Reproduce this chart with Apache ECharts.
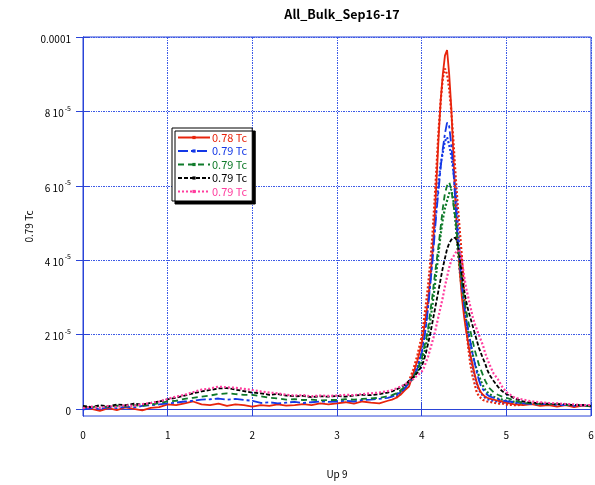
<!DOCTYPE html>
<html>
<head>
<meta charset="utf-8">
<script src="https://cdn.jsdelivr.net/npm/echarts@6/dist/echarts.min.js"></script>
<style>
  html, body { margin: 0; padding: 0; background: #ffffff; }
  #chart { width: 595px; height: 485px; }
</style>
</head>
<body>
<div id="chart"></div>
<script>
// Sample positions on the "Up 9" axis (denser across the peak)
const xValues = [
  0, 0.1, 0.2, 0.3, 0.4, 0.5, 0.6, 0.7, 0.8, 0.9,
  1, 1.1, 1.2, 1.3, 1.4, 1.5, 1.6, 1.7, 1.8, 1.9,
  2, 2.1, 2.2, 2.3, 2.4, 2.5, 2.6, 2.7, 2.8, 2.9,
  3, 3.1, 3.2, 3.3, 3.4, 3.5, 3.6,
  3.65, 3.7, 3.75, 3.8, 3.85, 3.9, 3.95,
  4, 4.025, 4.05, 4.075, 4.1, 4.125, 4.15, 4.175, 4.2, 4.225, 4.25, 4.275, 4.3,
  4.325, 4.35, 4.375, 4.4, 4.425, 4.45, 4.475, 4.5, 4.525, 4.55, 4.575, 4.6,
  4.625, 4.65, 4.675, 4.7, 4.725, 4.75, 4.775, 4.8,
  4.85, 4.9, 4.95, 5,
  5.1, 5.2, 5.3, 5.4, 5.5, 5.6, 5.7, 5.8, 5.9, 6
];

// Signal values, in units of 1e-5
const tc078 = [
  0.05, 0.0, -0.05, 0.02, -0.03, 0.04, 0.0, -0.04, 0.03, 0.05,
  0.12, 0.1, 0.15, 0.2, 0.12, 0.1, 0.14, 0.08, 0.12, 0.1,
  0.06, 0.1, 0.08, 0.12, 0.09, 0.1, 0.13, 0.1, 0.15, 0.12,
  0.15, 0.18, 0.14, 0.2, 0.17, 0.15, 0.22,
  0.25, 0.3, 0.38, 0.5, 0.6, 0.95, 1.3,
  1.75, 2.1, 2.5, 2.9, 3.5, 4.1, 5.0, 6.1, 7.3, 8.3, 9.0, 9.5, 9.65,
  9.0, 8.1, 6.8, 5.5, 4.5, 3.7, 3.0, 2.5, 2.1, 1.75, 1.45, 1.2,
  0.95, 0.72, 0.55, 0.45, 0.38, 0.33, 0.3, 0.28,
  0.25, 0.22, 0.2, 0.16,
  0.12, 0.1, 0.13, 0.08, 0.1, 0.06, 0.1, 0.05, 0.09, 0.07
];
const tc079a = [
  -0.02, 0.03, 0.0, 0.05, 0.02, 0.06, 0.04, 0.08, 0.1, 0.12,
  0.15, 0.17, 0.2, 0.22, 0.25, 0.26, 0.28, 0.25, 0.27, 0.24,
  0.22, 0.16, 0.18, 0.15, 0.17, 0.19, 0.16, 0.18, 0.2, 0.19,
  0.2, 0.22, 0.2, 0.24, 0.25, 0.27, 0.3,
  0.33, 0.38, 0.45, 0.55, 0.7, 0.85, 1.1,
  1.5, 1.8, 2.2, 2.7, 3.3, 3.9, 4.6, 5.3, 5.9, 6.5, 7.0, 7.4, 7.7,
  7.6, 7.1, 6.4, 5.5, 4.6, 3.9, 3.3, 2.8, 2.4, 2.1, 1.8, 1.5,
  1.25, 1.0, 0.78, 0.62, 0.52, 0.44, 0.38, 0.34,
  0.3, 0.27, 0.23, 0.21,
  0.18, 0.15, 0.13, 0.12, 0.14, 0.1, 0.11, 0.08, 0.1, 0.07
];
const tc079b = [
  0.06, 0.04, 0.08, 0.05, 0.09, 0.07, 0.1, 0.08, 0.12, 0.15,
  0.2, 0.22, 0.27, 0.3, 0.33, 0.36, 0.4, 0.42, 0.4, 0.38,
  0.38, 0.34, 0.3, 0.28, 0.25, 0.26, 0.24, 0.25, 0.23, 0.24,
  0.24, 0.26, 0.25, 0.27, 0.28, 0.3, 0.34,
  0.37, 0.42, 0.5, 0.6, 0.72, 0.85, 1.05,
  1.35, 1.6, 1.85, 2.15, 2.6, 3.0, 3.5, 3.95, 4.4, 4.9, 5.4, 5.8, 6.0,
  6.1, 5.9, 5.5, 5.1, 4.5, 3.9, 3.4, 3.0, 2.65, 2.35, 2.1, 1.85,
  1.6, 1.4, 1.2, 1.05, 0.9, 0.76, 0.65, 0.56,
  0.45, 0.38, 0.33, 0.3,
  0.22, 0.16, 0.15, 0.13, 0.12, 0.14, 0.1, 0.11, 0.09, 0.07
];
const tc079c = [
  0.08, 0.05, 0.1, 0.07, 0.12, 0.1, 0.14, 0.12, 0.16, 0.2,
  0.26, 0.3, 0.36, 0.42, 0.47, 0.51, 0.55, 0.56, 0.52, 0.48,
  0.44, 0.42, 0.38, 0.4, 0.36, 0.34, 0.35, 0.32, 0.34, 0.33,
  0.35, 0.33, 0.36, 0.38, 0.37, 0.4, 0.44,
  0.47, 0.52, 0.58, 0.65, 0.75, 0.85, 0.98,
  1.15, 1.3, 1.5, 1.75, 2.0, 2.3, 2.6, 2.9, 3.2, 3.5, 3.8, 4.05, 4.3,
  4.45, 4.55, 4.6, 4.6, 4.45, 4.1, 3.6, 3.2, 2.9, 2.65, 2.45, 2.25,
  2.05, 1.85, 1.65, 1.5, 1.35, 1.22, 1.05, 0.92,
  0.75, 0.6, 0.48, 0.4,
  0.28, 0.2, 0.17, 0.15, 0.14, 0.12, 0.13, 0.1, 0.11, 0.08
];
const tc079d = [
  0.02, 0.06, 0.03, 0.08, 0.05, 0.1, 0.08, 0.13, 0.16, 0.2,
  0.27, 0.33, 0.38, 0.45, 0.52, 0.55, 0.6, 0.58, 0.57, 0.54,
  0.51, 0.47, 0.44, 0.42, 0.38, 0.36, 0.37, 0.34, 0.36, 0.35,
  0.36, 0.38, 0.37, 0.4, 0.42, 0.44, 0.48,
  0.51, 0.55, 0.6, 0.66, 0.72, 0.8, 0.9,
  1.0, 1.1, 1.25, 1.4, 1.6, 1.8, 2.0, 2.25, 2.5, 2.75, 3.0, 3.3, 3.55,
  3.8, 4.0, 4.1, 4.2, 4.25, 4.25, 4.0, 3.6, 3.25, 3.0, 2.75, 2.5,
  2.3, 2.15, 2.0, 1.85, 1.7, 1.5, 1.35, 1.2,
  0.95, 0.8, 0.6, 0.45,
  0.3, 0.25, 0.2, 0.18, 0.16, 0.15, 0.13, 0.12, 0.1, 0.1
];

// Point-marker traces around the peak
const peakX = [
  3.7, 3.75, 3.8, 3.85, 3.9, 3.95,
  4, 4.025, 4.05, 4.075, 4.1, 4.125, 4.15, 4.175, 4.2, 4.225, 4.25, 4.275, 4.3,
  4.325, 4.35, 4.375, 4.4, 4.425, 4.45, 4.475, 4.5, 4.525, 4.55, 4.575, 4.6,
  4.625, 4.65, 4.675, 4.7, 4.725, 4.75, 4.775, 4.8,
  4.85, 4.9, 4.95, 5, 5.1, 5.2
];
const tc078Pts = [
  0.3, 0.42, 0.55, 0.75, 1.05, 1.45,
  1.95, 2.35, 2.8, 3.3, 3.9, 4.6, 5.5, 6.5, 7.5, 8.3, 8.9, 9.15, 9.0,
  8.6, 8.0, 7.2, 6.3, 5.5, 4.8, 4.1, 3.2, 2.3, 1.65, 1.2, 0.9,
  0.68, 0.45, 0.35, 0.29, 0.24, 0.22, 0.2, 0.19,
  0.17, 0.14, 0.15, 0.12, 0.1, 0.11
];
const tc079aPts = [
  0.36, 0.44, 0.55, 0.72, 0.9, 1.15,
  1.55, 1.9, 2.3, 2.8, 3.4, 4.1, 4.8, 5.5, 6.1, 6.6, 6.9, 7.2, 7.3,
  7.1, 6.8, 6.4, 5.9, 5.0, 4.1, 3.3, 2.7, 2.2, 1.8, 1.45, 1.15,
  0.9, 0.68, 0.52, 0.42, 0.35, 0.3, 0.27, 0.25,
  0.22, 0.2, 0.18, 0.17, 0.15, 0.14
];
const tc079bPts = [
  0.4, 0.48, 0.58, 0.7, 0.82, 1.0,
  1.25, 1.45, 1.7, 2.0, 2.35, 2.75, 3.2, 3.7, 4.2, 4.7, 5.1, 5.4, 5.6,
  5.8, 5.9, 5.6, 5.0, 4.3, 3.7, 3.2, 2.8, 2.4, 2.1, 1.8, 1.5,
  1.25, 1.05, 0.9, 0.75, 0.62, 0.52, 0.45, 0.4,
  0.33, 0.28, 0.25, 0.22, 0.19, 0.16
];

const legendLabels = ['0.78 Tc', '0.79 Tc', '0.79 Tc', '0.79 Tc', '0.79 Tc'];
const yTicks = [0, 2, 4, 6, 8, 10];
const xTicks = [0, 1, 2, 3, 4, 5, 6];

const RED = '#e8240c', BLUE = '#1438e6', GREEN = '#0f7a2a', BLACK = '#000000', PINK = '#ff3d9e';
const FRAME = '#2a44d8';
const GRIDLINE = '#3d5ae6';
const FONT = '"Noto Sans CJK JP", "DejaVu Sans", sans-serif';

function pairs(xs, ys) { return xs.map((x, i) => [x, ys[i]]); }

function yLabel(v) {
  if (v === 0) return '{m|0}';
  if (v === 10) return '{m|0.0001}';
  return '{m|' + v + ' 10}{e|-5}';
}

const seriesDefs = [
  { id: 's0', data: pairs(xValues, tc078), color: RED, type: 'solid', width: 1.8 },
  { id: 's1', data: pairs(xValues, tc079a), color: BLUE, type: [10, 3, 3, 3], width: 1.8 },
  { id: 's2', data: pairs(xValues, tc079b), color: GREEN, type: [6, 4], width: 1.8 },
  { id: 's3', data: pairs(xValues, tc079c), color: BLACK, type: [4, 2], width: 1.8 },
  { id: 's4', data: pairs(xValues, tc079d), color: PINK, type: [2, 2], width: 2.2 }
];
const pointDefs = [
  { id: 'p0', data: pairs(peakX, tc078Pts), color: RED },
  { id: 'p1', data: pairs(peakX, tc079aPts), color: BLUE },
  { id: 'p2', data: pairs(peakX, tc079bPts), color: GREEN }
];

const series = [];
pointDefs.forEach(d => series.push({
  name: d.id, type: 'line', data: d.data, showSymbol: false, silent: true,
  lineStyle: { color: d.color, width: 2.2, type: [2, 2] }, itemStyle: { color: d.color }, z: 2
}));
seriesDefs.forEach(d => series.push({
  name: d.id, type: 'line', data: d.data, symbol: 'rect', showSymbol: false, silent: true,
  lineStyle: { color: d.color, width: d.width, type: d.type }, itemStyle: { color: d.color }, z: 3
}));

const axisCommon = {
  type: 'value',
  axisLine: { show: true, lineStyle: { color: FRAME, width: 1 } },
  axisTick: { show: true, inside: true, length: 7, lineStyle: { color: FRAME } }
};

const option = {
  animation: false,
  backgroundColor: '#ffffff',
  textStyle: { fontFamily: FONT },
  title: {
    text: 'All_Bulk_Sep16-17', left: 337, top: 3, textAlign: 'center',
    textStyle: { fontFamily: FONT, fontSize: 12.5, fontWeight: 'bold', color: '#000' }
  },
  grid: {
    left: 83, top: 37, right: 4, bottom: 69, outerBoundsMode: 'none',
    show: true, borderColor: FRAME, borderWidth: 1, backgroundColor: 'transparent'
  },
  legend: {
    orient: 'vertical', left: 172, top: 128,
    padding: [4, 5, 4, 5], itemGap: 2.5, itemWidth: 32, itemHeight: 4,
    backgroundColor: '#ffffff', borderColor: '#000', borderWidth: 1,
    shadowColor: '#000', shadowBlur: 0, shadowOffsetX: 3, shadowOffsetY: 3,
    textStyle: { fontFamily: FONT, fontSize: 11, padding: [0, 0, 0, -3] },
    formatter: name => legendLabels[Number(name.slice(1))],
    data: seriesDefs.map(d => ({ name: d.id, textStyle: { color: d.color } }))
  },
  xAxis: [
    Object.assign({}, axisCommon, {
      min: 0, max: 6, interval: 1, position: 'bottom',
      name: 'Up 9', nameLocation: 'middle', nameGap: 53, nameMoveOverlap: false,
      nameTextStyle: { fontFamily: FONT, fontSize: 10, color: '#000' },
      axisLabel: { margin: 14, fontFamily: FONT, fontSize: 10, color: '#000',
        formatter: v => xTicks.indexOf(v) >= 0 ? String(v) : '' },
      splitLine: { show: true, lineStyle: { color: GRIDLINE, width: 1, type: [2, 1, 1, 1] } }
    }),
    Object.assign({}, axisCommon, {
      min: 0, max: 6, interval: 1, position: 'top',
      axisLabel: { show: false }, splitLine: { show: false }
    })
  ],
  yAxis: [
    Object.assign({}, axisCommon, {
      min: -0.19, max: 10, position: 'left',
      name: '0.79 Tc', nameLocation: 'middle', nameGap: 49, nameRotate: 90, nameMoveOverlap: false,
      nameTextStyle: { fontFamily: FONT, fontSize: 10, color: '#000' },
      axisTick: { show: true, inside: true, length: 7, customValues: yTicks, lineStyle: { color: FRAME } },
      axisLabel: {
        margin: 12, customValues: yTicks, formatter: yLabel,
        rich: {
          m: { fontFamily: FONT, fontSize: 10, color: '#000', lineHeight: 14, verticalAlign: 'bottom' },
          e: { fontFamily: FONT, fontSize: 7, color: '#000', lineHeight: 14, verticalAlign: 'top', padding: [0, 0, 0, 1] }
        }
      },
      splitLine: { show: true, lineStyle: { color: GRIDLINE, width: 1, type: [2, 1, 1, 1] } }
    }),
    Object.assign({}, axisCommon, {
      min: -0.19, max: 10, position: 'right',
      axisTick: { show: true, inside: true, length: 7, customValues: yTicks, lineStyle: { color: FRAME } },
      axisLabel: { show: false }, splitLine: { show: false }
    })
  ],
  series: series
};

const chart = echarts.init(document.getElementById('chart'), null, { renderer: 'canvas' });
chart.setOption(option);
</script>
</body>
</html>
